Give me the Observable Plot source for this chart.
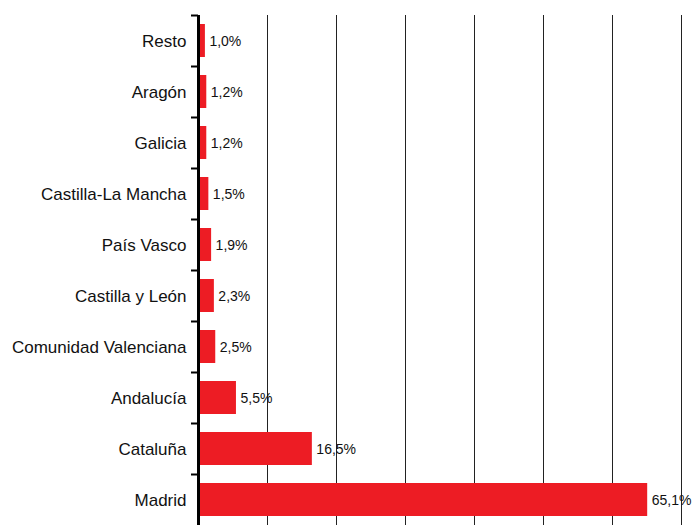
<!DOCTYPE html>
<html>
<head>
<meta charset="utf-8">
<script src="https://cdn.jsdelivr.net/npm/d3@7"></script>
<script src="https://cdn.jsdelivr.net/npm/@observablehq/plot@0.6"></script>
<style>
  html, body { margin: 0; padding: 0; background: #fff; }
  #chart svg { display: block; }
</style>
</head>
<body>
<div id="chart"></div>
<script>
// Share by region (%), top to bottom
const regions = ["Resto", "Aragón", "Galicia", "Castilla-La Mancha", "País Vasco",
  "Castilla y León", "Comunidad Valenciana", "Andalucía", "Cataluña", "Madrid"];
const shares = [1.0, 1.2, 1.2, 1.5, 1.9, 2.3, 2.5, 5.5, 16.5, 65.1];
const gridTicks = [10, 20, 30, 40, 50, 60, 70];

const data = regions.map((region, i) => ({region, share: shares[i]}));
const fmt = v => v.toFixed(1).replace(".", ",") + "%";

const height = 525, marginTop = 15, marginBottom = 0;
const band = (height - marginTop - marginBottom) / regions.length;

const chart = Plot.plot({
  width: 695,
  height,
  marginTop,
  marginBottom,
  marginLeft: 198,
  marginRight: 14,
  style: {fontFamily: "'Liberation Sans', Arial, sans-serif", background: "#fff"},
  x: {domain: [0, 70], axis: null},
  y: {domain: regions, padding: 0, label: null},
  marks: [
    Plot.gridX(gridTicks, {stroke: "#222", strokeOpacity: 1, strokeWidth: 1}),
    Plot.barX(data, {x: "share", y: "region", fill: "#ED1C24", insetTop: 9, insetBottom: 9}),
    Plot.text(data, {x: "share", y: "region", text: d => fmt(d.share), textAnchor: "start",
      dx: 4, dy: 1, fontSize: 14, fill: "#111"}),
    Plot.axisY({tickSize: 0, tickPadding: 12, fontSize: 17, fill: "#111", dy: 1, label: null}),
    Plot.axisY({tickSize: 7, text: null, dy: -band / 2, stroke: "#000", strokeWidth: 2, label: null}),
    Plot.ruleX([0], {stroke: "#000", strokeWidth: 3})
  ]
});
document.getElementById("chart").append(chart);
</script>
</body>
</html>
